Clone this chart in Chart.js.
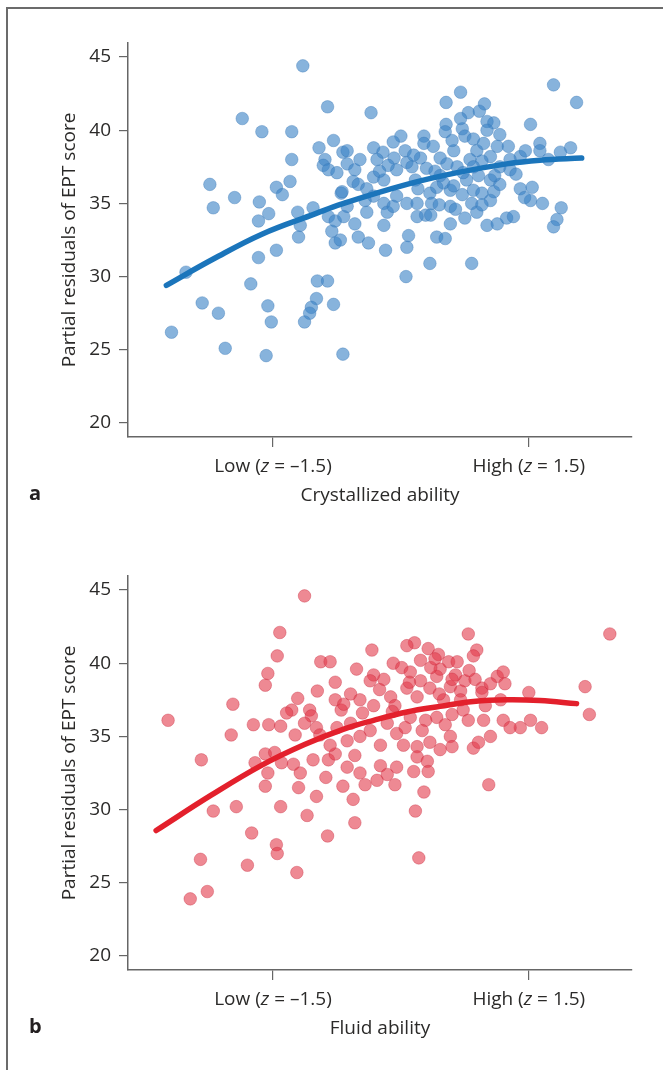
<!DOCTYPE html>
<html>
<head>
<meta charset="utf-8">
<script src="https://cdn.jsdelivr.net/npm/chart.js@4.4.1/dist/chart.umd.min.js"></script>
<style>
    body { margin: 0; background: #fff; }
    #page { position: relative; width: 663px; height: 1070px; overflow: hidden; font-family: 'Open Sans', sans-serif; }
    #frame { position: absolute; left: 6px; top: 7px; right: -4px; bottom: -4px; border-left: 2px solid #6b6b6b; border-top: 2px solid #6b6b6b; }
    canvas { position: absolute; left: 0; }
    #chartA { top: 0; }
    #chartB { top: 533px; }
    .panel-letter { position: absolute; left: 29px; font-size: 20px; font-weight: bold; color: #231f20; line-height: 24px; }
</style>
</head>
<body>
<div id="page">
    <div id="frame"></div>
    <canvas id="chartA" width="663" height="520"></canvas>
    <canvas id="chartB" width="663" height="520"></canvas>
    <div class="panel-letter" style="top: 481px;">a</div>
    <div class="panel-letter" style="top: 1014px;">b</div>
</div>
<script>
// axis ticks
const yTicks = [20, 25, 30, 35, 40, 45];
const xTickValues = [-1.5, 1.5];
const xTickLabels = ['Low (z = –1.5)', 'High (z = 1.5)'];

// panel a - crystallized ability
const crystX = [
    -1.15, -0.86, -1.86, -1.63, -1.28, -0.79, -0.96, -1.28, -0.89, -0.91,
    -0.85, -0.75, -0.68, -1.30, -1.46, -1.39, -2.24, -1.95, -1.66, -2.20,
    -1.55, -1.21, -1.03, -1.67, -1.18, -1.20, -0.85, -0.77, -0.81, -0.77,
    -0.70, -1.67, -1.46, -2.52, -1.76, -0.98, -0.86, -0.99, -1.05, -1.07,
    -1.13, -0.79, -2.33, -2.14, -1.56, -1.52, -2.69, -2.06, -1.58, -0.68,
    1.79, 2.06, 0.70, 0.53, -0.35, 0.79, 0.98, 0.92, 1.01, 1.09,
    1.52, 0.53, 0.52, 0.72, 0.75, 0.85, 1.01, 0.27, 0.27, 0.00,
    -0.09, -0.32, -0.63, -0.21, -0.28, -0.08, 0.07, 0.13, -0.05, 0.23,
    0.38, 0.46, 0.62, 0.54, 0.66, 0.89, 0.97, 1.13, 1.26, 1.05,
    1.16, 1.28, 1.40, 1.63, 1.63, 1.87, 1.99, -0.63, -0.54, -0.48,
    -0.56, -0.69, -0.32, -0.20, -0.32, -0.20, -0.05, 0.07, 0.19, 0.34,
    0.42, 0.36, 0.58, 0.72, 0.77, 0.73, 0.85, 0.95, 1.09, 0.83,
    0.89, 0.58, 0.45, 1.40, 1.54, 1.52, 1.66, 1.88, 1.83, 1.79,
    1.01, 1.13, 1.24, 1.32, 0.75, 0.58, 0.42, 0.52, 0.19, 0.09,
    0.07, -0.18, -0.38, -0.50, -0.54, -0.67, -0.63, -0.71, -0.40, -0.16,
    -0.20, 0.34, 0.83, 0.06, -0.09, 0.60, 0.81, 0.91, 1.05, 1.16,
    0.46, 0.17, 0.05, -0.15, -0.50, -0.42, 1.28, 1.46, 1.73, 0.64,
    1.05, 0.29, 1.16, 0.70, 0.30, 0.50, 0.95, 1.10, 0.20, -0.25,
    0.62, 1.35, 0.85, 0.40, -0.40, 1.45, 0.15, 0.95, 0.35
];
const crystY = [
    44.4, 41.6, 40.8, 39.9, 39.9, 39.3, 38.8, 38.0, 38.0, 37.6,
    37.3, 37.1, 38.5, 36.5, 36.1, 35.6, 36.3, 35.4, 35.1, 34.7,
    34.3, 34.4, 34.7, 33.8, 33.5, 32.7, 34.1, 33.8, 33.1, 32.3,
    35.7, 31.3, 31.8, 30.3, 29.5, 29.7, 29.7, 28.5, 27.9, 27.5,
    26.9, 28.1, 28.2, 27.5, 28.0, 26.9, 26.2, 25.1, 24.6, 24.7,
    43.1, 41.9, 42.6, 41.9, 41.2, 41.2, 41.8, 41.3, 40.6, 40.5,
    40.4, 40.4, 39.9, 40.1, 39.6, 39.4, 40.0, 39.6, 39.1, 39.6,
    39.2, 38.8, 38.6, 38.5, 38.0, 38.1, 37.8, 37.5, 37.3, 38.1,
    38.9, 38.1, 38.6, 37.7, 37.5, 38.6, 39.1, 38.9, 38.9, 38.2,
    37.5, 37.3, 38.2, 39.1, 38.6, 38.5, 38.8, 37.7, 37.3, 38.0,
    36.5, 35.8, 36.8, 36.6, 35.5, 35.0, 35.5, 35.0, 35.0, 35.7,
    36.1, 35.0, 35.9, 35.6, 36.6, 37.1, 35.9, 35.7, 35.8, 35.0,
    34.4, 34.8, 34.9, 36.0, 36.1, 35.2, 35.0, 34.7, 33.9, 33.4,
    33.5, 33.6, 34.0, 34.1, 34.0, 33.6, 32.7, 32.6, 34.1, 32.8,
    32.0, 31.8, 32.3, 32.7, 33.6, 34.1, 34.8, 32.5, 34.4, 34.4,
    33.5, 30.9, 30.9, 30.0, 34.8, 39.3, 38.0, 36.9, 36.6, 36.3,
    36.9, 36.6, 38.6, 37.6, 36.3, 35.2, 38.0, 38.6, 38.0, 34.6,
    35.2, 34.2, 39.7, 40.8, 37.4, 36.4, 37.9, 36.9, 36.0, 37.2,
    36.2, 37.0, 37.5, 37.2, 36.0, 35.4, 38.3, 34.9, 34.2
];
const crystFitX = [-2.75, -2.2, -1.63, -1.0, -0.7, 0.07, 0.66, 1.24, 1.63, 2.12];
const crystFitY = [29.4, 31.2, 32.9, 34.3, 34.95, 36.3, 37.1, 37.7, 37.95, 38.1];

// panel b - fluid ability
const fluidX = [
    -1.13, -1.42, -1.45, -1.56, -1.59, -0.94, -0.83, -0.77, -0.98, -1.21,
    -1.28, -1.34, -1.07, -1.05, -1.13, -0.77, -0.70, -2.73, -1.97, -1.99,
    -1.73, -1.55, -1.41, -1.24, -0.99, -2.34, -1.59, -1.48, -1.71, -1.40,
    -1.26, -1.18, -1.56, -1.59, -1.20, -1.03, -0.88, -0.99, -0.68, -0.85,
    -0.77, -2.20, -1.93, -1.41, -1.10, -0.86, -1.75, -1.46, -1.45, -2.35,
    -1.80, -1.22, -2.27, -2.47, 0.79, -0.34, 0.16, 0.07, 0.32, 0.44,
    0.89, 0.85, 0.56, 0.66, -0.52, -0.09, 0.01, 0.11, -0.32, -0.20,
    0.23, 0.42, 0.64, 0.75, 0.87, 1.13, 1.20, 1.22, 1.50, 0.95,
    0.58, 0.34, 0.07, -0.12, -0.36, -0.59, -0.67, -0.48, -0.32, 0.19,
    0.50, 0.73, 0.97, 0.79, 1.52, 1.65, 1.20, 1.40, 1.28, 0.42,
    0.11, -0.16, -0.36, -0.59, -0.48, -0.63, -0.05, 0.03, 0.19, 0.34,
    0.58, 0.60, 0.85, 0.91, 1.05, 0.46, 0.19, 0.31, -0.24, -0.05,
    -0.16, -0.28, -0.48, -0.63, -0.07, 0.15, 0.32, 1.03, 0.27, 0.17,
    -0.56, -0.54, 2.16, 2.21, 2.45, 0.21, 0.23, 0.46, 0.70, -0.07,
    0.29, 0.52, -0.24, -0.54, -0.83, -0.95, 0.70, 0.99, 1.17, -0.42,
    0.35, 0.60, 0.10, -0.25, 0.45, 0.80, 1.05, -0.10, 0.25, 0.60,
    -0.45, 0.95, 0.05, -0.75, 0.40
];
const fluidY = [
    44.6, 42.1, 40.5, 39.3, 38.5, 40.1, 40.1, 38.7, 38.1, 37.6,
    36.8, 36.6, 36.8, 36.4, 35.9, 37.5, 36.8, 36.1, 37.2, 35.1,
    35.8, 35.8, 35.7, 35.1, 35.6, 33.4, 33.8, 33.9, 33.2, 33.2,
    33.1, 32.5, 32.5, 31.6, 31.5, 33.4, 32.2, 30.9, 31.6, 33.4,
    33.8, 29.9, 30.2, 30.2, 29.6, 28.2, 28.4, 27.6, 27.0, 26.6,
    26.2, 25.7, 24.4, 23.9, 42.0, 40.9, 41.4, 41.2, 41.0, 40.6,
    40.9, 40.5, 40.1, 40.1, 39.6, 40.0, 39.7, 39.4, 39.2, 38.9,
    38.8, 39.1, 39.2, 38.8, 38.9, 39.1, 39.4, 38.6, 38.0, 38.3,
    38.4, 38.3, 38.3, 37.7, 38.8, 37.9, 37.2, 37.5, 37.1, 37.7,
    37.5, 36.8, 36.1, 36.1, 36.1, 35.6, 36.1, 35.6, 35.6, 36.3,
    36.3, 35.9, 35.4, 35.9, 35.0, 34.7, 35.2, 34.4, 34.3, 34.6,
    35.0, 34.3, 34.2, 34.6, 35.0, 34.1, 33.6, 33.3, 33.0, 32.9,
    32.4, 32.0, 32.5, 32.9, 31.7, 32.6, 32.6, 31.7, 31.2, 29.9,
    30.7, 29.1, 38.4, 36.5, 42.0, 26.7, 40.2, 39.6, 38.1, 37.1,
    36.1, 35.8, 34.4, 33.7, 34.4, 35.1, 37.5, 37.1, 37.5, 31.7,
    39.7, 38.9, 38.7, 38.2, 37.9, 39.5, 38.6, 36.7, 35.4, 36.5,
    36.6, 38.0, 35.6, 35.6, 40.3
];
const fluidFitX = [-2.87, -2.22, -1.63, -1.13, -0.67, -0.32, 0.07, 0.46, 0.85, 1.24, 1.63, 2.06];
const fluidFitY = [28.57, 31.0, 33.04, 34.45, 35.5, 36.1, 36.67, 37.05, 37.38, 37.5, 37.45, 37.24];

const textColor = '#2b2a29';
const axisColor = '#666666';
const fontFamily = "'Open Sans', sans-serif";
const fontSize = 19;

function toPoints(xs, ys) {
    return xs.map((x, i) => ({ x: x, y: ys[i] }));
}

// x tick labels with an italic "z"
const abilityTickLabels = {
    id: 'abilityTickLabels',
    afterDraw(chart) {
        const ctx = chart.ctx;
        const xScale = chart.scales.x;
        const normal = fontSize + 'px ' + fontFamily;
        const italic = 'italic ' + fontSize + 'px ' + fontFamily;
        ctx.save();
        ctx.fillStyle = textColor;
        ctx.textBaseline = 'middle';
        ctx.textAlign = 'left';
        xTickValues.forEach((value, i) => {
            const parts = xTickLabels[i].split(/(z)/);
            let total = 0;
            parts.forEach(p => {
                ctx.font = p === 'z' ? italic : normal;
                total += ctx.measureText(p).width;
            });
            let px = xScale.getPixelForValue(value) - total / 2;
            const py = xScale.top + 30;
            parts.forEach(p => {
                ctx.font = p === 'z' ? italic : normal;
                ctx.fillText(p, px, py);
                px += ctx.measureText(p).width;
            });
        });
        ctx.restore();
    }
};

function makePanel(canvasId, xs, ys, fitXs, fitYs, dotColor, dotEdge, lineColor, xTitle) {
    const ctx = document.getElementById(canvasId).getContext('2d');
    return new Chart(ctx, {
        type: 'scatter',
        data: {
            datasets: [
                {
                    type: 'line',
                    data: toPoints(fitXs, fitYs),
                    borderColor: lineColor,
                    borderWidth: 5.5,
                    borderCapStyle: 'round',
                    pointRadius: 0,
                    tension: 0.4,
                    fill: false,
                    order: 0
                },
                {
                    data: toPoints(xs, ys),
                    backgroundColor: dotColor,
                    borderColor: dotEdge,
                    borderWidth: 0.8,
                    pointRadius: 6.3,
                    order: 1
                }
            ]
        },
        options: {
            responsive: false,
            animation: false,
            events: [],
            layout: { padding: { top: 43, right: 31, left: 0, bottom: 0 } },
            plugins: {
                legend: { display: false },
                tooltip: { enabled: false }
            },
            scales: {
                x: {
                    type: 'linear',
                    min: -3.2,
                    max: 2.71,
                    afterBuildTicks: scale => { scale.ticks = xTickValues.map(v => ({ value: v })); },
                    afterFit: scale => { scale.height = 83; },
                    ticks: { display: false },
                    grid: { drawOnChartArea: false, drawTicks: true, tickLength: 10, color: axisColor, lineWidth: 1.2 },
                    border: { display: true, color: axisColor, width: 1.5 },
                    title: {
                        display: true,
                        text: xTitle,
                        color: textColor,
                        font: { family: fontFamily, size: fontSize },
                        padding: { top: 0, bottom: 13.5 }
                    }
                },
                y: {
                    type: 'linear',
                    min: 19.04,
                    max: 45.96,
                    afterBuildTicks: scale => { scale.ticks = yTicks.map(v => ({ value: v })); },
                    afterFit: scale => { scale.width = 128; },
                    ticks: { color: textColor, font: { family: fontFamily, size: fontSize }, padding: 8 },
                    grid: { drawOnChartArea: false, drawTicks: true, tickLength: 9, color: axisColor, lineWidth: 1.2 },
                    border: { display: true, color: axisColor, width: 1.5 },
                    title: {
                        display: true,
                        text: 'Partial residuals of EPT score',
                        color: textColor,
                        font: { family: fontFamily, size: fontSize },
                        padding: { top: 58.5, bottom: 0 }
                    }
                }
            }
        },
        plugins: [abilityTickLabels]
    });
}

document.addEventListener('DOMContentLoaded', () => {
    makePanel('chartA', crystX, crystY, crystFitX, crystFitY,
        'rgba(61, 133, 198, 0.62)', 'rgba(50, 115, 180, 0.45)', '#1b75bb', 'Crystallized ability');
    makePanel('chartB', fluidX, fluidY, fluidFitX, fluidFitY,
        'rgba(226, 58, 75, 0.6)', 'rgba(200, 40, 60, 0.45)', '#e3202c', 'Fluid ability');
});
</script>
</body>
</html>
